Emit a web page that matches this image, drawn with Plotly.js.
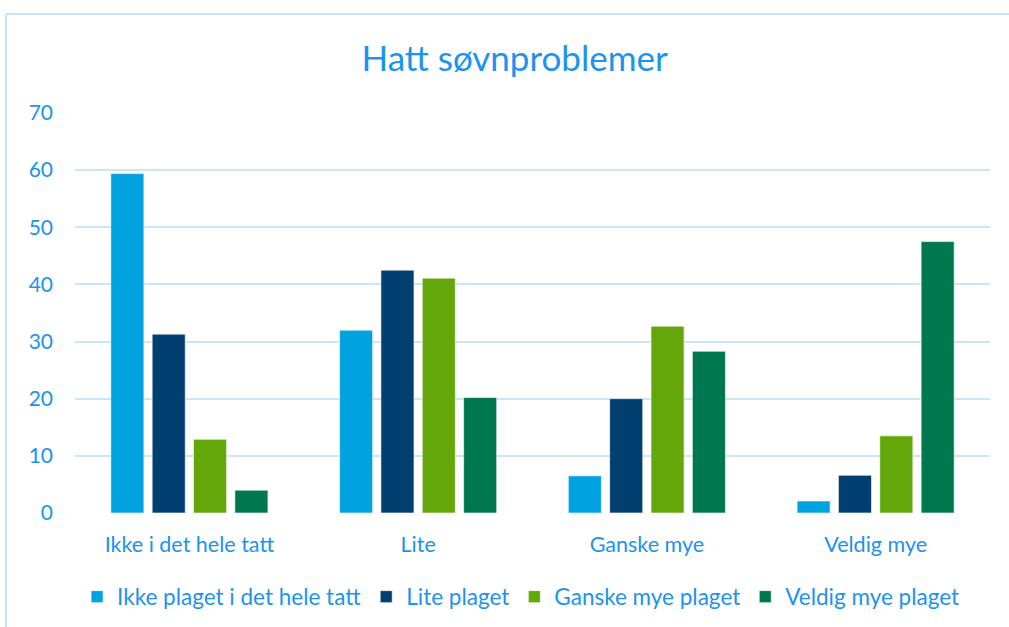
<!DOCTYPE html>
<html>
<head>
<meta charset="utf-8">
<script src="https://cdn.plot.ly/plotly-3.0.1.min.js"></script>
<style>html,body{margin:0;padding:0;background:#fff;}#chart{width:1009px;height:627px;}</style>
</head>
<body>
<div id="chart"></div>
<script>
const categories = ["Ikke i det hele tatt", "Lite", "Ganske mye", "Veldig mye"];
const seriesNames = ["Ikke plaget i det hele tatt", "Lite plaget", "Ganske mye plaget", "Veldig mye plaget"];
const ikkePlaget = [59.4, 32.0, 6.5, 2.1];
const litePlaget = [31.3, 42.5, 20.0, 6.6];
const ganskeMyePlaget = [12.9, 41.1, 32.7, 13.5];
const veldigMyePlaget = [4.0, 20.2, 28.3, 47.5];
const yTicks = [0, 10, 20, 30, 40, 50, 60, 70];

const colors = ["#00a3e0", "#003f70", "#64a70b", "#00784f"];
const values = [ikkePlaget, litePlaget, ganskeMyePlaget, veldigMyePlaget];
const textColor = "#1c93ee";
const font = "Lato, sans-serif";

const data = values.map((v, i) => ({
  type: "bar",
  name: seriesNames[i],
  x: categories,
  y: v,
  marker: {color: colors[i], line: {color: "rgba(255,255,255,0.6)", width: 1}},
  hoverinfo: "y"
}));

const layout = {
  width: 1009, height: 627,
  margin: {l: 75, r: 19, t: 113, b: 114, autoexpand: false},
  paper_bgcolor: "#fff", plot_bgcolor: "#fff",
  font: {family: font, color: textColor, size: 21},
  title: {text: "Hatt søvnproblemer", font: {size: 35, color: textColor, family: font}, x: 0.51, xanchor: "center", y: 0.907, yanchor: "middle"},
  bargap: 0.277, bargroupgap: 0.2,
  xaxis: {automargin: false, showgrid: false, zeroline: false, showline: false, ticks: "", tickfont: {size: 21.5, color: textColor}, ticklabelstandoff: 16},
  yaxis: {automargin: false, range: [0, 70], tickvals: yTicks, showgrid: true, gridcolor: "#c9e7fb", gridwidth: 2, zeroline: false, showline: false, ticks: "", tickfont: {size: 21, color: textColor}, ticklabelstandoff: 21},
  legend: {orientation: "h", x: 0.487, xanchor: "center", y: -0.21, yanchor: "middle", font: {size: 22.5, color: textColor}, itemwidth: 30, tracegroupgap: 0},
  showlegend: true,
  shapes: [
    {type: "line", xref: "paper", yref: "paper", x0: -0.0754, x1: 1.03, y0: 1.2475, y1: 1.2475, line: {color: "#c5e3f8", width: 2}},
    {type: "line", xref: "paper", yref: "paper", x0: -0.0754, x1: -0.0754, y0: 1.2475, y1: -0.32, line: {color: "#c5e3f8", width: 2}}
  ]
};

Plotly.newPlot("chart", data, layout, {displayModeBar: false, staticPlot: true});
</script>
</body>
</html>
